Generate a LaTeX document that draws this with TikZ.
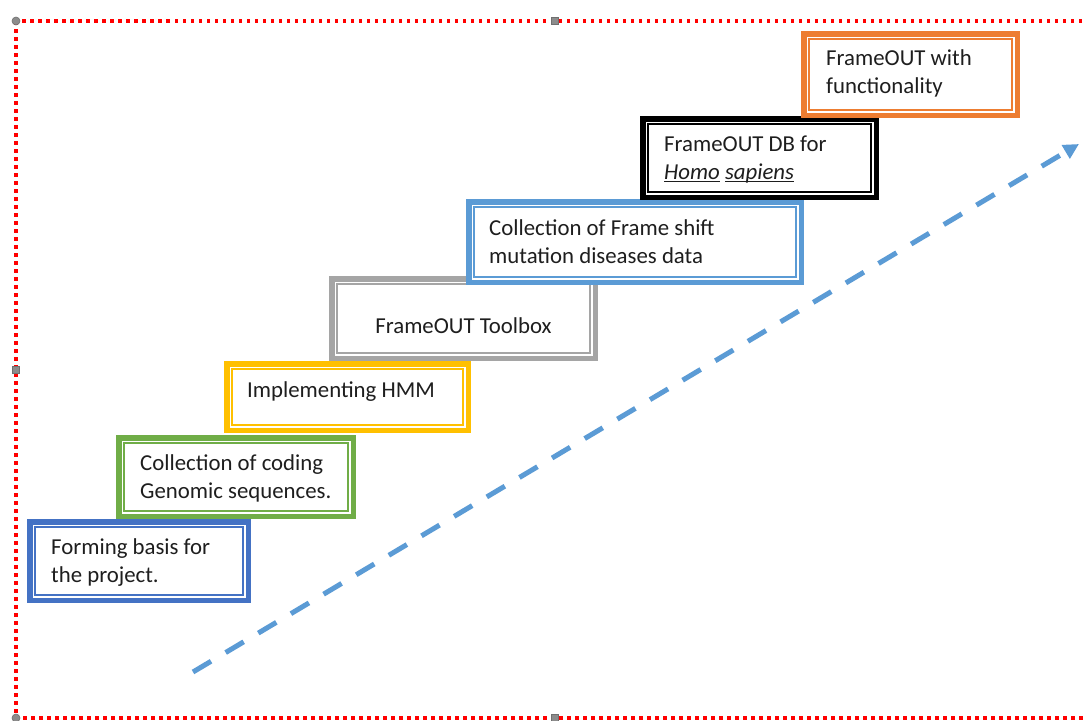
\documentclass[tikz,border=0pt]{standalone}
\usepackage{fontspec}
\setmainfont{Carlito}
\usetikzlibrary{arrows.meta}
\definecolor{cblue}{HTML}{4472C4}
\definecolor{cgreen}{HTML}{70AD47}
\definecolor{cyellow}{HTML}{FFC000}
\definecolor{cgray}{HTML}{A5A5A5}
\definecolor{clight}{HTML}{5B9BD5}
\definecolor{corange}{HTML}{ED7D31}
\definecolor{cblack}{HTML}{000000}
\definecolor{ctext}{HTML}{1E1E1E}
\definecolor{chandle}{HTML}{8C8C8C}
\newcommand{\myul}[1]{\setbox0\hbox{#1}\rlap{\rule[-3pt]{\wd0}{1.2pt}}\box0\relax}
\newcommand{\twolines}[2]{\vtop{\baselineskip=28pt\hbox{#1}\hbox{#2}}}
\begin{document}
\begin{tikzpicture}[x=1pt,y=-1pt,
  stepbox/.style={draw=#1, fill=white, line width=5.5pt, inner sep=0pt, outer sep=0pt, anchor=north west,
    path picture={\draw[#1, line width=1.5pt]
      ([shift={(5.3pt,5.3pt)}]path picture bounding box.south west) rectangle
      ([shift={(-5.3pt,-5.3pt)}]path picture bounding box.north east);}},
  steptext/.style={inner sep=0pt, anchor=base west,
    font=\fontsize{22.8}{28}\selectfont, text=ctext},
  centertext/.style={inner sep=0pt, anchor=base, font=\fontsize{22.8}{28}\selectfont, text=ctext},
  frameline/.style={draw=red, line width=3.5pt, dash pattern=on 3.5pt off 4.5pt},
  hround/.style={circle, fill=chandle, draw=chandle!80!black, line width=0.6pt, minimum size=8pt, inner sep=0pt},
  hsquare/.style={rectangle, fill=chandle, draw=chandle!80!black, line width=0.6pt, minimum size=7.5pt, inner sep=0pt},
  trend/.style={draw=clight, line width=5pt, dash pattern=on 21pt off 17pt,
    -{Triangle[length=15.5pt,width=15pt]}},
]
\useasboundingbox (0,0) rectangle (1084,720);
\clip (0,0) rectangle (1084,720);
\fill[white] (0,0) rectangle (1084,720);

% selection frame
\draw[frameline] (16,21) rectangle (1100,718);
\node[hround]  (h1) at (16,21) {};
\node[hsquare] (h2) at (555,21) {};
\node[hsquare] (h3) at (16,370) {};
\node[hround]  (h4) at (16,718) {};
\node[hsquare] (h5) at (555,718) {};

% trend arrow
\coordinate (as) at (193,672);
\coordinate (ae) at (1079,144);
\draw[trend] (as) -- (ae);

% steps
\node[stepbox=cblue,   minimum width=218.5pt, minimum height=78.5pt] (b1) at (29.75,521.75) {};
\node[stepbox=cgreen,  minimum width=234.5pt, minimum height=78.5pt] (b2) at (118.75,437.75) {};
\node[stepbox=cyellow, minimum width=241.5pt, minimum height=66.5pt] (b3) at (226.75,363.75) {};
\node[stepbox=cgray,   minimum width=263.5pt, minimum height=79.5pt] (b4) at (331.75,278.75) {};
\node[stepbox=clight,  minimum width=332.5pt, minimum height=80.5pt] (b5) at (468.75,201.75) {};
\node[stepbox=cblack,  minimum width=233.5pt, minimum height=78.5pt] (b6) at (642.75,118.75) {};
\node[stepbox=corange, minimum width=213.5pt, minimum height=81.5pt] (b7) at (803.75,33.75) {};

\node[steptext] (t1) at (51,554) {\twolines{Forming basis for}{the project.}};
\node[steptext] (t2) at (140,470) {\twolines{Collection of coding}{Genomic sequences.}};
\node[steptext] (t3) at (247,397) {Implementing HMM};
\node[centertext] (t4) at (463.5,333) {FrameOUT Toolbox};
\node[steptext] (t5) at (489,235) {\twolines{Collection of Frame shift}{mutation diseases data}};
\node[steptext] (t6) at (664,151) {\twolines{FrameOUT DB for}{\myul{\textit{Homo}}\ \myul{\textit{sapiens}}}};
\node[steptext] (t7) at (826,65) {\twolines{FrameOUT with}{functionality}};
\end{tikzpicture}
\end{document}
